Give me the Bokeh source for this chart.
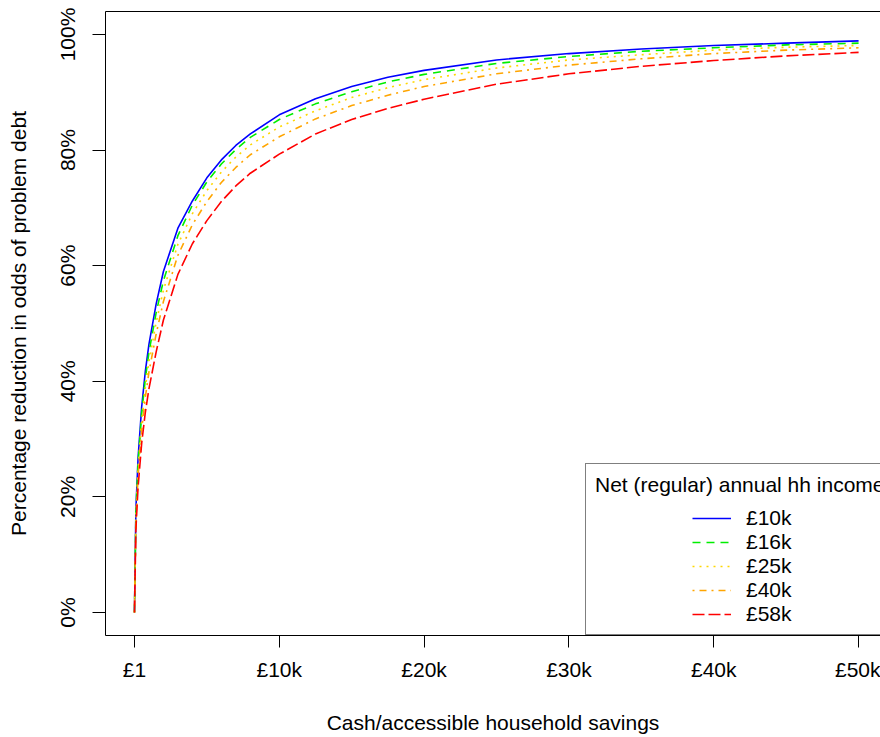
from bokeh.plotting import figure
from bokeh.models import Range1d, FixedTicker, LinearAxis, Legend, LegendItem
from bokeh.embed import file_html
from bokeh.resources import INLINE

# ---- data ----
savings = [1, 100, 250, 500, 750, 1000, 1500, 2000, 3000, 4000, 5000, 6000, 7000,
           8000, 10000, 12500, 15000, 17500, 20000, 25000, 30000, 35000, 40000, 45000, 50000]
inc_10k = [0.000, 0.179, 0.267, 0.356, 0.417, 0.464, 0.534, 0.590, 0.665, 0.712, 0.752, 0.783, 0.808,
           0.828, 0.861, 0.889, 0.910, 0.926, 0.938, 0.956, 0.967, 0.975, 0.981, 0.985, 0.989]
inc_16k = [0.000, 0.172, 0.258, 0.345, 0.404, 0.450, 0.519, 0.574, 0.652, 0.705, 0.745, 0.776, 0.801,
           0.822, 0.853, 0.880, 0.901, 0.918, 0.931, 0.950, 0.962, 0.971, 0.977, 0.982, 0.985]
inc_25k = [0.000, 0.165, 0.248, 0.331, 0.389, 0.434, 0.502, 0.558, 0.637, 0.690, 0.730, 0.762, 0.788,
           0.809, 0.840, 0.868, 0.891, 0.908, 0.922, 0.942, 0.956, 0.965, 0.973, 0.978, 0.981]
inc_40k = [0.000, 0.156, 0.236, 0.316, 0.372, 0.416, 0.482, 0.538, 0.618, 0.671, 0.711, 0.744, 0.770,
           0.792, 0.823, 0.854, 0.877, 0.895, 0.910, 0.932, 0.947, 0.958, 0.967, 0.973, 0.977]
inc_58k = [0.000, 0.144, 0.217, 0.293, 0.346, 0.387, 0.451, 0.506, 0.585, 0.638, 0.678, 0.711, 0.738,
           0.760, 0.793, 0.828, 0.853, 0.872, 0.888, 0.914, 0.932, 0.945, 0.955, 0.963, 0.969]

series_labels = ["£10k", "£16k", "£25k", "£40k", "£58k"]
legend_title = "Net (regular) annual hh income"
x_ticks = [1, 10000, 20000, 30000, 40000, 50000]
x_tick_labels = ["£1", "£10k", "£20k", "£30k", "£40k", "£50k"]
y_ticks = [0, 0.2, 0.4, 0.6, 0.8, 1.0]
y_tick_labels = ["0%", "20%", "40%", "60%", "80%", "100%"]

FONT = "Liberation Sans"
FS = "21px"

p = figure(width=880, height=737, output_backend="svg", toolbar_location=None,
           x_range=Range1d(-1999, 51513), y_range=Range1d(-0.0398, 1.0398),
           min_border_left=105, min_border_right=0, min_border_top=11, min_border_bottom=102)
p.grid.visible = False
p.outline_line_color = None
p.background_fill_color = "white"
p.border_fill_color = "white"

p.xaxis.ticker = FixedTicker(ticks=x_ticks)
p.xaxis.major_label_overrides = dict(zip(x_ticks, x_tick_labels))
p.yaxis.ticker = FixedTicker(ticks=y_ticks)
p.yaxis.major_label_overrides = dict(zip(y_ticks, y_tick_labels))
p.yaxis.major_label_orientation = "vertical"
p.xaxis.axis_label = "Cash/accessible household savings"
p.yaxis.axis_label = "Percentage reduction in odds of problem debt"

for ax in (p.xaxis[0], p.yaxis[0]):
    ax.major_tick_in = 0
    ax.minor_tick_in = 0
    ax.minor_tick_out = 0
    ax.axis_line_color = "black"
    ax.major_tick_line_color = "black"
    ax.major_label_text_font = FONT
    ax.major_label_text_font_size = FS
    ax.major_label_text_color = "black"
    ax.axis_label_text_font = FONT
    ax.axis_label_text_font_size = FS
    ax.axis_label_text_font_style = "normal"
    ax.axis_label_text_color = "black"
p.xaxis.major_tick_out = 12
p.xaxis.major_label_standoff = 10
p.xaxis.axis_label_standoff = 27
p.yaxis.major_tick_out = 13
p.yaxis.major_label_standoff = 13
p.yaxis.axis_label_standoff = 24

top = LinearAxis(ticker=FixedTicker(ticks=[]), major_tick_out=0, major_tick_in=0,
                 minor_tick_out=0, minor_tick_in=0, major_label_standoff=0,
                 major_label_text_font_size="0px", axis_line_color="black")
p.add_layout(top, "above")

series = [inc_10k, inc_16k, inc_25k, inc_40k, inc_58k]
colors = ["#0000FF", "#00EE00", "#FFD700", "#FFA500", "#FF0000"]
dashes = ["solid", "8 6", "2 5", "2 5 7 5", "12 4"]
renderers = []
for ys, c, d in zip(series, colors, dashes):
    renderers.append(p.line(savings, ys, line_color=c, line_width=1.6, line_dash=d))

common = dict(title_text_font=FONT, title_text_font_size=FS, title_text_font_style="normal",
              title_standoff=8, padding=9, spacing=0, margin=0,
              label_height=24, glyph_height=24, label_text_font=FONT,
              label_text_font_size=FS)

# legend frame + title
legA = Legend(items=[LegendItem(label=" ", renderers=[r]) for r in renderers],
              title=legend_title, location=(480, 0), glyph_width=0, label_standoff=0,
              label_width=300, border_line_color="black", border_line_width=1,
              background_fill_color="white", background_fill_alpha=1,
              title_text_color="black", **common)
# legend entries (centred under the title as in the reference)
legB = Legend(items=[LegendItem(label=l, renderers=[r]) for l, r in zip(series_labels, renderers)],
              title=" ", location=(578, 0), glyph_width=39, label_standoff=15,
              label_text_color="black",
              border_line_alpha=0, background_fill_alpha=0, **common)
p.add_layout(legA)
p.add_layout(legB)

open("out.html", "w").write(file_html(p, INLINE))
